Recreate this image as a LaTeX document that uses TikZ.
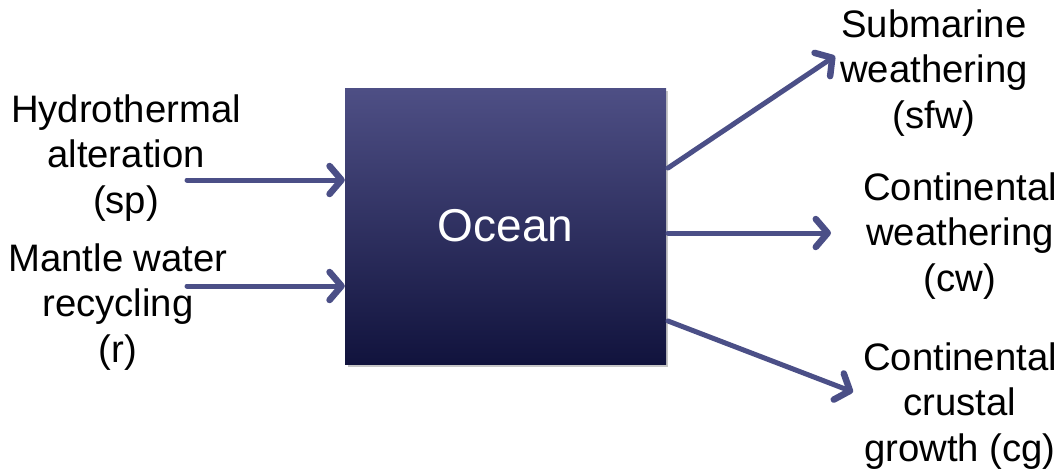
\documentclass[tikz,border=0pt]{standalone}
\usepackage{fontspec}
\setmainfont{Liberation Sans}
\usetikzlibrary{arrows.meta}
\definecolor{arrowc}{HTML}{4B4F87}
\definecolor{boxtop}{HTML}{4E4F85}
\definecolor{boxbot}{HTML}{11133D}
\tikzset{
  lbl/.style={align=center, inner sep=0pt, font=\fontsize{38.3}{45.5}\selectfont},
  flow/.style={draw=arrowc, line width=5pt, line cap=round,
    -{Straight Barb[length=12pt, width=28pt, line width=6.5pt, line cap=round, line join=round]}},
  oceanbox/.style={minimum width=321pt, minimum height=276pt, inner sep=0pt,
    top color=boxtop, bottom color=boxbot, draw=none,
    font=\fontsize{46}{50}\selectfont, text=white}
}
\begin{document}
\begin{tikzpicture}[x=1pt,y=-1pt]
\useasboundingbox (0,0) rectangle (1061,475);
\fill[black!22] (348,91) rectangle (668,367);
\node[oceanbox] (ocean) at (505.5,226) {Ocean};
\node[lbl] (hyd) at (126,158) {Hydrothermal\\alteration\\(sp)};
\node[lbl] (man) at (118,307) {Mantle water\\recycling\\(r)};
\node[lbl] (sub) at (934,73) {Submarine\\weathering\\(sfw)};
\node[lbl] (cw) at (960,236) {Continental\\weathering\\(cw)};
\node[lbl] (cg) at (960,406) {Continental\\crustal\\growth (cg)};
\coordinate (h0) at (187,180);
\coordinate (m0) at (187,286);
\draw[flow] (h0) -- (ocean.west |- h0);
\draw[flow] (m0) -- (ocean.west |- m0);
\coordinate (s0) at (668,168);
\coordinate (s1) at (835,56);
\coordinate (c0) at (668,233);
\coordinate (c1) at (831,233);
\coordinate (g0) at (668,321);
\coordinate (g1) at (853,392);
\draw[flow] (s0) -- (s1);
\draw[flow] (c0) -- (c1);
\draw[flow] (g0) -- (g1);
\end{tikzpicture}
\end{document}
